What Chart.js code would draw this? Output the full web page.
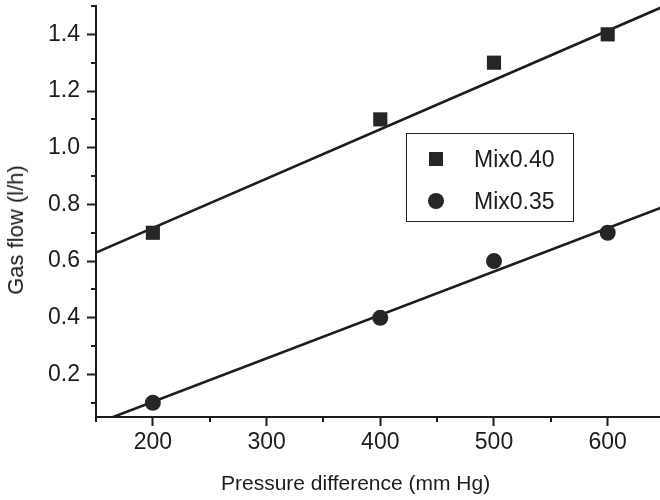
<!DOCTYPE html>
<html>
<head>
<meta charset="utf-8">
<script src="https://cdn.jsdelivr.net/npm/chart.js@4.4.0/dist/chart.umd.min.js"></script>
<style>
  html, body { margin: 0; padding: 0; background: #fff; overflow: hidden; }
  #wrap { position: relative; width: 660px; height: 500px; font-family: "Liberation Sans", Arial, sans-serif; color: #1c1c1c; }
  #chart { position: absolute; left: 0; top: 0; }
  #legend { position: absolute; left: 406px; top: 133px; width: 168px; height: 89px; box-sizing: border-box;
            border: 1.5px solid #222; font-size: 23px; }
  .item { position: absolute; left: 0; height: 30px; line-height: 30px; }
  .item .mark { position: absolute; background: #262626; }
  .item span { position: absolute; left: 67px; white-space: nowrap; }
  #xtitle { position: absolute; left: 221px; top: 471px; font-size: 21px; white-space: nowrap; }
  #ytitle { position: absolute; left: 16px; top: 230px; font-size: 22px; white-space: nowrap;
            transform: translate(-50%, -50%) rotate(-90deg); }
</style>
</head>
<body>
<div id="wrap">
  <canvas id="chart" width="660" height="500"></canvas>
  <div id="legend"></div>
  <div id="xtitle">Pressure difference (mm Hg)</div>
  <div id="ytitle">Gas flow (l/h)</div>
</div>
<script>
// values
const pressure = [200, 400, 500, 600];
const mix040 = [0.70, 1.10, 1.30, 1.40];
const mix035 = [0.10, 0.40, 0.60, 0.70];

// linear fit lines, end points estimated from the figure
const fitX = [150, 650];
const fit040 = [0.63, 1.50];
const fit035 = [0.027, 0.793];

const xTicks = [150, 200, 250, 300, 350, 400, 450, 500, 550, 600];
const yTicks = [0.1, 0.2, 0.3, 0.4, 0.5, 0.6, 0.7, 0.8, 0.9, 1.0, 1.1, 1.2, 1.3, 1.4, 1.5];

const ink = '#1c1c1c';
const pts = (xs, ys) => xs.map((x, i) => ({ x: x, y: ys[i] }));
const isMajorX = v => v % 100 === 0;
const isMajorY = v => Math.round(v * 10) % 2 === 0;

// short minor ticks, drawn from the scales
const minorTicks = {
  id: 'minorTicks',
  afterDraw(chart) {
    const { ctx, scales: { x, y } } = chart;
    ctx.save();
    ctx.strokeStyle = ink;
    ctx.lineWidth = 2;
    ctx.beginPath();
    x.ticks.forEach(t => {
      if (isMajorX(t.value)) return;
      const px = Math.round(x.getPixelForValue(t.value));
      ctx.moveTo(px, x.top);
      ctx.lineTo(px, x.top + 5);
    });
    y.ticks.forEach(t => {
      if (isMajorY(t.value)) return;
      const py = Math.round(y.getPixelForValue(t.value));
      ctx.moveTo(y.right, py);
      ctx.lineTo(y.right - 5, py);
    });
    ctx.stroke();
    ctx.restore();
  }
};

Chart.defaults.font.family = '"Liberation Sans", Arial, sans-serif';
Chart.defaults.color = ink;

const series = [
  { label: 'Mix0.40', data: pts(pressure, mix040), pointStyle: 'rect', pointRadius: 10 },
  { label: 'Mix0.35', data: pts(pressure, mix035), pointStyle: 'circle', pointRadius: 8 }
];

new Chart(document.getElementById('chart'), {
  type: 'scatter',
  data: {
    datasets: [
      ...series.map(s => ({
        label: s.label, data: s.data, pointStyle: s.pointStyle, pointRadius: s.pointRadius,
        pointHoverRadius: s.pointRadius, backgroundColor: '#262626', borderColor: '#262626', borderWidth: 0
      })),
      { type: 'line', label: 'fit 0.40', data: pts(fitX, fit040), borderColor: ink, borderWidth: 2.6, pointRadius: 0, fill: false },
      { type: 'line', label: 'fit 0.35', data: pts(fitX, fit035), borderColor: ink, borderWidth: 2.6, pointRadius: 0, fill: false }
    ]
  },
  options: {
    responsive: false,
    animation: false,
    layout: { autoPadding: false, padding: { top: 6, right: 0, bottom: 0, left: 0 } },
    plugins: { legend: { display: false }, tooltip: { enabled: false } },
    scales: {
      x: {
        type: 'linear', min: 150, max: 646,
        afterBuildTicks: s => { s.ticks = xTicks.map(v => ({ value: v })); },
        afterFit: s => { s.height = 83; s.paddingLeft = 0; s.paddingRight = 0; },
        grid: { drawOnChartArea: false, tickLength: 9, tickWidth: 2,
                tickColor: c => isMajorX(c.tick.value) ? ink : 'rgba(0,0,0,0)' },
        border: { color: ink, width: 2 },
        ticks: { padding: 3, font: { size: 23 }, maxRotation: 0, autoSkip: false,
                 callback: v => isMajorX(v) ? String(v) : '' }
      },
      y: {
        min: 0.05, max: 1.5,
        afterBuildTicks: s => { s.ticks = yTicks.map(v => ({ value: v })); },
        afterFit: s => { s.width = 96; s.paddingTop = 0; s.paddingBottom = 0; },
        grid: { drawOnChartArea: false, tickLength: 9, tickWidth: 2,
                tickColor: c => isMajorY(c.tick.value) ? ink : 'rgba(0,0,0,0)' },
        border: { color: ink, width: 2 },
        ticks: { padding: 7, font: { size: 23 }, autoSkip: false,
                 callback: v => isMajorY(v) ? v.toFixed(1) : '' }
      }
    }
  },
  plugins: [minorTicks]
});

// legend box, built from the scatter series
const legend = document.getElementById('legend');
series.forEach((s, i) => {
  const item = document.createElement('div');
  item.className = 'item';
  item.style.top = (i === 0 ? 10 : 52) + 'px';
  const mark = document.createElement('div');
  mark.className = 'mark';
  if (s.pointStyle === 'rect') {
    Object.assign(mark.style, { left: '22px', top: '8px', width: '14px', height: '14px' });
  } else {
    Object.assign(mark.style, { left: '21px', top: '7px', width: '16px', height: '16px', borderRadius: '50%' });
  }
  const text = document.createElement('span');
  text.textContent = s.label;
  item.appendChild(mark);
  item.appendChild(text);
  legend.appendChild(item);
});
</script>
</body>
</html>
